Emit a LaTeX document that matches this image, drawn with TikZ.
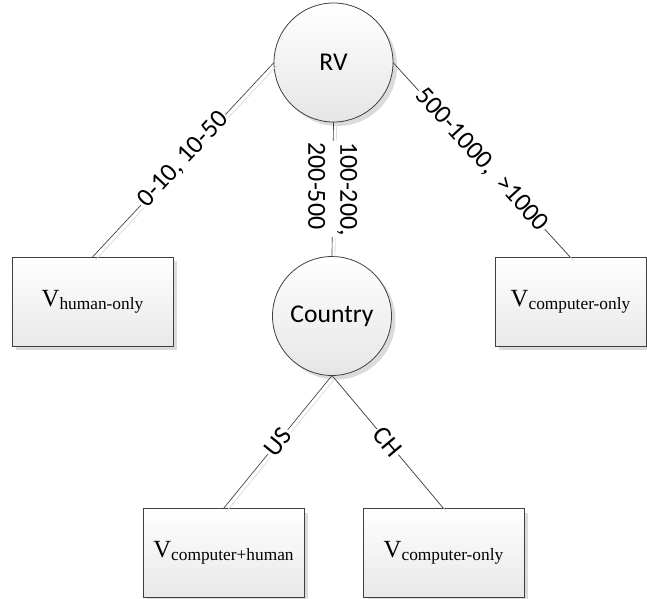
\documentclass[tikz,border=0pt]{standalone}
\usepackage{fontspec}
\setmainfont{Carlito}
\newfontfamily\tnr{Liberation Serif}
\usetikzlibrary{shadows,calc}
\newcommand{\vsub}[1]{{\tnr\fontsize{18.5}{20}\selectfont V\fontsize{13}{15}\selectfont\raisebox{-2.25pt}{#1}}}
\begin{document}
\begin{tikzpicture}[x=0.75pt,y=-0.75pt,
  circ/.style={circle, draw=black!75, line width=0.6pt, top color=white, bottom color=black!10,
    minimum size=89.25pt, inner sep=0pt, outer sep=0pt,
    general shadow={fill=black!14, shadow xshift=3pt, shadow yshift=-3pt},
    font=\fontsize{19.2}{22}\selectfont},
  box/.style={rectangle, draw=black!75, line width=0.6pt, top color=white, bottom color=black!9,
    minimum width=120.75pt, minimum height=66.75pt, inner sep=0pt, outer sep=0pt,
    general shadow={fill=black!14, shadow xshift=3pt, shadow yshift=-3pt}},
  conn/.style={draw=black!75, line width=0.5pt},
  connsh/.style={draw=black!13, line width=0.6pt, transform canvas={xshift=2.25pt, yshift=-2.25pt}},
  lbl/.style={fill=white, inner sep=1pt, font=\fontsize{19.5}{24}\selectfont, midway}
]
\useasboundingbox (0,0) rectangle (647,599);

\node[circ] (RV) at (333.5,62.5) {RV};
\node[circ] (C) at (332,316) {Country};
\node[box] (B1) at (92.5,301.5) {\vsub{human-only}};
\node[box, minimum width=113.25pt] (B2) at (570.5,302) {\vsub{computer-only}};
\node[box] (B3) at (223.5,553) {\vsub{computer+human}};
\node[box] (B4) at (443.5,553) {\vsub{computer-only}};

% connector shadows
\draw[connsh] (RV.west) -- (B1.north);
\draw[connsh] (RV.east) -- (B2.north);
\draw[connsh] (RV.south) -- (C.north);
\draw[connsh] (C.south) -- (B3.north);
\draw[connsh] (C.south) -- (B4.north);

% connectors
\draw[conn] (RV.west) -- node[lbl, sloped] {0-10, 10-50} (B1.north);
\draw[conn] (RV.east) -- node[lbl, sloped] {500-1000, \ >1000} (B2.north);
\draw[conn] (RV.south) -- node[lbl, rotate=-90, align=left] {100-200,\\200-500} (C.north);
\draw[conn] (C.south) -- node[lbl, sloped] {US} (B3.north);
\draw[conn] (C.south) -- node[lbl, sloped] {CH} (B4.north);
\end{tikzpicture}
\end{document}
